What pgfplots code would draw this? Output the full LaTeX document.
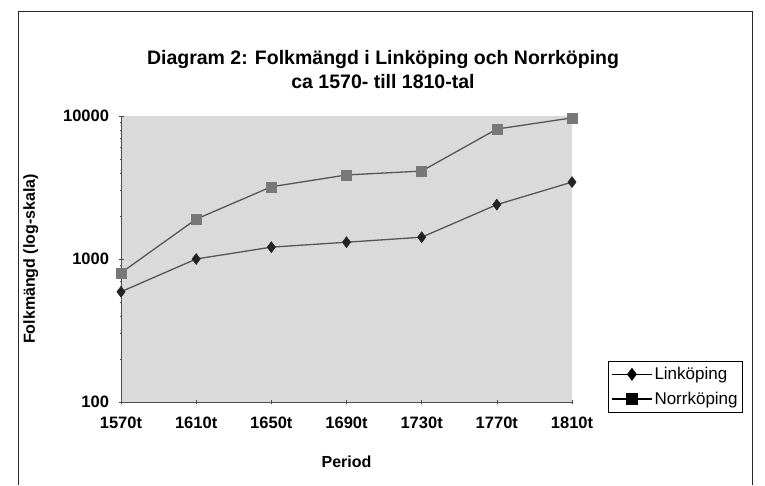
\documentclass[border=0pt]{standalone}
\usepackage{pgfplots}
\pgfplotsset{compat=1.18}
\usepackage{fontspec}
\setmainfont{Liberation Sans}
\definecolor{plotbg}{RGB}{218,218,218}
\definecolor{linkline}{RGB}{85,85,85}
\definecolor{linkmark}{RGB}{35,35,35}
\definecolor{norrline}{RGB}{85,85,85}
\definecolor{norrmark}{RGB}{120,120,120}
\begin{document}
\begin{tikzpicture}
\path[use as bounding box] (0pt,0pt) rectangle (765pt,485pt);
\draw[line width=1pt, black!85] (18pt,0pt) -- (18pt,473pt) -- (752pt,473pt) -- (752pt,0pt);
\node[font=\bfseries\fontsize{19.5}{24}\selectfont, align=center] at (383pt,415pt) {Diagram 2: Folkmängd i Linköping och Norrköping\\ca 1570- till 1810-tal};
\begin{axis}[
  at={(121pt,83pt)}, anchor=south west,
  scale only axis, width=451pt, height=286pt,
  xmin=0, xmax=6, xtick={0,...,6},
  xticklabels={1570t,1610t,1650t,1690t,1730t,1770t,1810t},
  ymode=log, ymin=100, ymax=10000, ytick={100,1000,10000},
  log ticks with fixed point,
  /pgf/number format/1000 sep={},
  /pgf/number format/assume math mode=true,
  axis background/.style={fill=plotbg},
  axis line style={black!70, line width=0.9pt},
  tick style={black!70, line width=0.6pt},
  tick align=center, major tick length=5pt,
  axis x line*=bottom, axis y line*=left,
  ticklabel style={font=\bfseries\fontsize{16.5}{18}\selectfont},
  xticklabel style={yshift=-9pt},
  yticklabel style={xshift=-6pt},
  xlabel={Period}, ylabel={Folkmängd (log-skala)},
  label style={font=\bfseries\fontsize{16}{18}\selectfont},
  xlabel style={yshift=-20pt},
  ylabel style={yshift=18pt},
  legend style={at={(1.08,0.143)}, anchor=north west, draw=black, line width=0.6pt,
    font=\fontsize{17}{19}\selectfont, fill=white, inner xsep=3pt, inner ysep=4pt, row sep=7pt},
  legend cell align=left,
  legend image code/.code={\draw[mark repeat=2,mark phase=2,#1,black,mark options={fill=black,draw=black}] plot coordinates {(0cm,0cm) (0.7cm,0cm) (1.4cm,0cm)};},
]
\addplot[linkline, line width=1.3pt, mark=diamond*, mark size=5.5pt, mark options={fill=linkmark, draw=linkmark, line width=0.5pt}]
  coordinates {(0,590) (1,1000) (2,1210) (3,1310) (4,1420) (5,2400) (6,3450)};
\addlegendentry{Linköping}
\addplot[norrline, line width=1.3pt, mark=square*, mark size=5pt, mark options={fill=norrmark, draw=norrmark, line width=0.5pt}]
  coordinates {(0,800) (1,1900) (2,3200) (3,3870) (4,4120) (5,8100) (6,9700)};
\addlegendentry{Norrköping}
\end{axis}
\end{tikzpicture}
\end{document}
